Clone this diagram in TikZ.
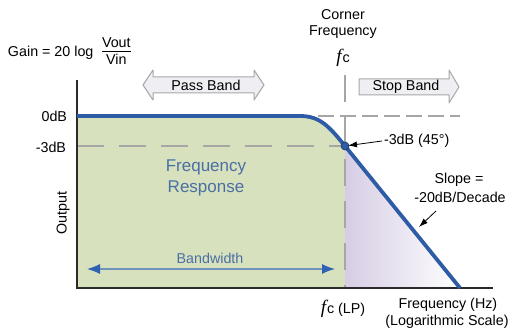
\documentclass[tikz,border=0pt]{standalone}
\usepackage{fontspec}
\setmainfont{Liberation Sans}
\newfontfamily\fserif{Liberation Serif}
\usetikzlibrary{arrows.meta}
\definecolor{curveblue}{HTML}{2D5BA6}
\definecolor{txtblue}{HTML}{4A6FA5}
\definecolor{bwline}{HTML}{7093BE}
\definecolor{bwhead}{HTML}{2F62B3}
\definecolor{greenfill}{HTML}{D7E1BD}
\definecolor{purp}{HTML}{D6CDE4}
\definecolor{dashgray}{HTML}{A6A6A6}
\definecolor{bandfill}{HTML}{EEEEF3}
\definecolor{bandedge}{HTML}{A8A8A8}
\definecolor{axiscol}{HTML}{2B2B2B}
\begin{document}
\begin{tikzpicture}[x=1pt,y=-1pt,
  every node/.style={inner sep=0pt, outer sep=0pt},
  base/.style={font=\fontsize{14.3}{16}\selectfont},
  bluetxt/.style={font=\fontsize{17}{20}\selectfont, text=txtblue},
  dashA/.style={draw=dashgray, line width=1.8pt, dash pattern=on 27pt off 15pt},
  dashB/.style={draw=dashgray, line width=1.8pt, dash pattern=on 16pt off 6pt},
  band/.style={draw=bandedge, fill=bandfill, line width=1pt, line join=round},
  pointer/.style={draw=black, line width=0.8pt, -{Latex[length=9pt,width=6pt]}}
]
\useasboundingbox (0,0) rectangle (512,331);

% coordinates
\coordinate (knee) at (345,146);
\coordinate (bend) at (300,116);
\coordinate (lineend) at (460,288);
\coordinate (origin) at (77,288);
\coordinate (ytop) at (77,80);
\coordinate (xend) at (493,288);

% fills
\fill[greenfill] (77,116) -- (bend) .. controls (320,116) and (329.3,126.6) .. (knee) -- (345,288) -- (origin) -- cycle;
\shade[left color=purp, right color=white] (knee) -- (lineend) -- (345,288) -- cycle;

% dashed guides
\draw[dashA] (77,146) -- (knee);
\draw[dashA] (345,75) -- (345,288);
\draw[dashB] (318,116) -- (460,116);

% axes
\draw[axiscol, line width=2pt] (ytop) -- (origin) -- (xend);

% response curve
\draw[curveblue, line width=3.8pt] (77,116) -- (bend) .. controls (320,116) and (329.3,126.6) .. (knee) -- (lineend);
\fill[curveblue, draw=curveblue!60!black, line width=0.6pt] (knee) circle (4);

% band arrows
\draw[band] (143,85) -- (153,70) -- (153,77) -- (254,77) -- (254,70) -- (264,85)
  -- (254,100) -- (254,93) -- (153,93) -- (153,100) -- cycle;
\node[base] (pass) at (206,85) {Pass Band};
\draw[band] (359,79) -- (449,79) -- (449,70) -- (459,87) -- (449,103) -- (449,95) -- (359,95) -- cycle;
\node[base] (stop) at (406,87) {Stop Band};

% texts
\node[base, anchor=west] (gain) at (8,53) {Gain = 20 log};
\node[base, anchor=west] (frac) at (102,53) {\renewcommand\arraystretch{0.95}\begin{tabular}{@{}c@{}}Vout\\[-1pt]\hline\rule{0pt}{13pt}Vin\end{tabular}};
\node[base] (corner) at (343,15) {Corner};
\node[base] (cfreq) at (343,32) {Frequency};
\node (fctop) at (343,58) {{\fontsize{19}{20}\selectfont\fserif\itshape f}\hspace{1pt}{\fontsize{14.3}{16}\selectfont c}};
\node[base, anchor=east] (zero) at (67,116) {0dB};
\node[base, anchor=east] (m3) at (66,147) {-3dB};
\node[base, rotate=90] (outp) at (63,213) {Output};
\node[bluetxt] (fr1) at (206,167) {Frequency};
\node[bluetxt] (fr2) at (206,188) {Response};
\node[base, text=txtblue] (bw) at (210,258) {Bandwidth};
\node[base, anchor=west] (m3lbl) at (384,141) {-3dB (45\textdegree)};
\node[base] (slope1) at (459,180) {Slope =};
\node[base] (slope2) at (460,197) {-20dB/Decade};
\node (fclp) at (343,309) {{\fontsize{19}{20}\selectfont\fserif\itshape f}\hspace{1pt}{\fontsize{14.3}{16}\selectfont c (LP)}};
\node[base] (fhz) at (448,305) {Frequency (Hz)};
\node[base] (logs) at (447,322) {(Logarithmic Scale)};

% bandwidth arrow
\coordinate (bwL) at (87,269);
\coordinate (bwR) at (335,269);
\draw[bwline, line width=1.3pt, {Latex[length=13pt,width=10pt,color=bwhead]}-{Latex[length=13pt,width=10pt,color=bwhead]}] (bwL) -- (bwR);

% pointers
\draw[pointer, shorten >=3pt] ([xshift=-2pt]m3lbl.west) -- (knee);
\coordinate (slopetail) at (436,211);
\coordinate (slopetip) at (419,227);
\draw[pointer] (slopetail) -- (slopetip);
\end{tikzpicture}
\end{document}
